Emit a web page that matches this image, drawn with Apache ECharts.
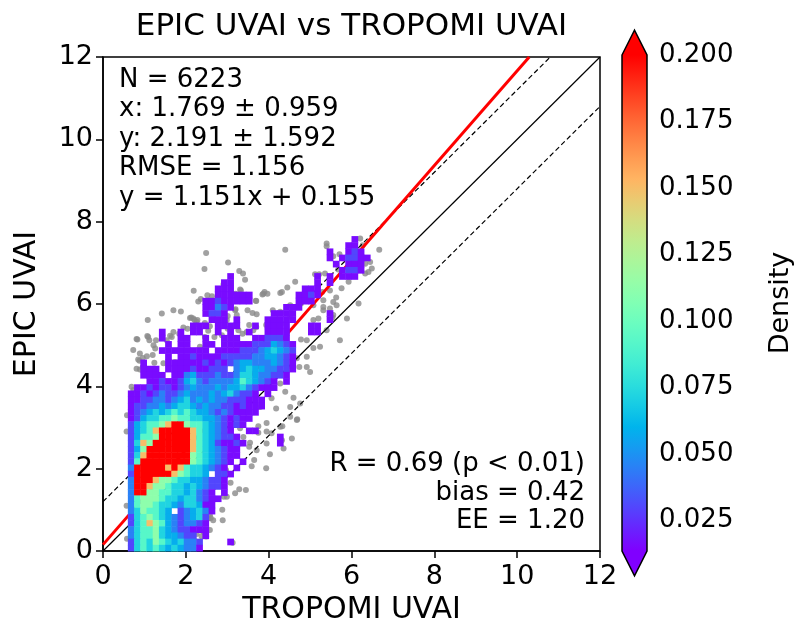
<!DOCTYPE html>
<html>
<head>
<meta charset="utf-8">
<script src="https://cdn.jsdelivr.net/npm/echarts@6.0.0/dist/echarts.min.js"></script>
<style>
html, body { margin: 0; padding: 0; background: #fff; }
#chart { width: 795px; height: 637px; }
</style>
</head>
<body>
<div id="chart"></div>
<script>
// ---- values ----
const cellSize = 0.15;   // bin width in UVAI units
const cellX0 = 0.6;      // left edge of the first bin column
// density class of each bin, top row first ('.' = no bin drawn)
const densityRows = [
  "..............................." + ".....1....",
  "..............................." + "....11...",
  ".............................." + "..1..121..",
  ".............................." + "..1.12211.",
  ".............................." + "...1.111..",
  ".............................." + "....1221..",
  ".........." + "......1..." + ".........." + "1.1.111...",
  ".........." + ".....11..." + ".........." + "1.1.......",
  ".........." + "....111..." + "........11" + "1.........",
  ".........." + "....111111" + ".......112" + "1.........",
  ".........." + "..11211111" + ".......111" + "..........",
  ".........." + "..11321..." + ".....111.." + "..........",
  ".........." + "..1221...." + "...1111..." + "..1.......",
  ".........." + "...111.1.." + "..11111..." + "..1.......",
  ".........." + "111.1111.." + "1.1111...1" + "1.........",
  ".....1..1." + "11..1.1..1" + "..1111...1" + "1.........",
  ".....1..11" + "..1..111.." + "112221....",
  "......1.11" + "..11.11111" + "2224321...",
  ".....11111" + "111.111122" + "2345432...",
  "......1.11" + "2111122222" + "3344321...",
  "..1...1111" + "1121212344" + "3334321...",
  "..111.1111" + "211222.345" + "4433221...",
  "..1111.113" + "4222322355" + "433221....",
  "...1121124" + "5323333465" + "4321.1....",
  ".112122123" + "4333434453" + "2111......",
  "1121232234" + "3334345322" + "1.1.......",
  "1122332345" + "3434332221" + "11........",
  "1223343455" + "4343322121" + "11........",
  "1234545656" + "5443232111" + "1.........",
  "1245566766" + "5544321211",
  "2456678997" + "665432121.",
  "2456899999" + "8654321..1" + "1.........",
  "2466799999" + "86543221.." + "....1.....",
  "2587999999" + "865421121." + "....1.....",
  "2479999999" + "86543211..",
  "2589999999" + "76543211..",
  "2699999999" + "7654321.1.",
  "3999998986" + "554321.1..",
  "2999999876" + "554.221...",
  "3999877655" + "443221....",
  "3998776554" + "543221....",
  "3997766554" + "5321.1....",
  "3677765545" + "53211.....",
  "3677655435" + "5411......",
  "3576654.23" + "4531......",
  "2567654323" + "452.......",
  "2568764323" + "321.......",
  "3566754322" + "111.......",
  "3566754432" + "2.1.......",
  "2565765453" + "32....1...",
  "2565654543" + "31........"
];
// density value of each class 1..9
const classDensity = [0, 0.016, 0.03, 0.045, 0.058, 0.072, 0.092, 0.112, 0.15, 0.2];

// sparse points outside the drawn bins
const greyPoints = [
  [2.49,7.24],[3.02,7.01],[2.45,6.85],[3.29,6.80],[3.38,6.74],[3.43,6.59],[2.91,6.48],[2.19,6.32],
  [3.33,6.33],[3.20,6.25],[3.85,6.23],[3.90,6.29],[2.63,6.19],[2.30,6.06],[3.69,6.08],[1.70,5.85],
  [1.88,5.82],[1.42,5.77],[3.20,5.87],[3.49,5.85],[2.13,5.67],[2.21,5.61],[1.08,5.61],[2.26,5.57],
  [2.46,5.54],[2.58,5.46],[3.23,5.73],[3.53,5.49],[3.71,5.75],[1.70,5.32],[1.84,5.28],[0.81,5.15],
  [1.09,5.20],[3.27,5.36],[3.37,5.28],[2.87,5.24],[2.54,5.35],
  [4.40,7.32],[5.40,7.40],[6.27,7.43],[4.64,6.54],[5.36,6.74],[5.12,6.72],[6.33,6.98],[6.45,7.02],
  [6.49,6.86],[3.31,6.35],[3.70,6.07],[3.87,6.25],[4.28,6.27],[4.45,6.40],[4.28,5.81],[4.52,5.97],
  [4.40,5.53],[5.08,5.61],[5.32,5.93],[6.33,6.74],[4.52,5.69],[2.18,5.65],[2.66,5.73],[2.99,5.61],
  [3.19,5.85],[3.63,5.36],[5.24,4.96],[4.92,5.12],[5.40,5.36],[5.72,5.12],[3.75,4.88],[4.92,4.72],
  [5.00,4.35],[5.40,7.47],[6.21,7.59],[6.67,7.32],[5.22,6.72],[5.68,6.84],[5.93,6.54],[5.32,6.09],
  [5.56,6.05],[5.76,6.38],[6.17,6.01],[6.41,6.78],[5.56,5.73],[5.32,5.85],[5.89,5.65],
  [5.56,7.16],[5.71,7.21],[2.36,6.12],[2.52,6.21],[3.45,6.19],[3.97,6.25],[4.32,6.29],[5.29,6.29],
  [5.48,6.33],[5.63,6.16],[5.64,5.97],[2.10,5.66],[2.28,5.61],[2.24,5.50],[3.01,5.71],[3.61,5.78],
  [4.10,5.85],[4.30,5.78],[4.54,5.78],[4.78,6.01],[5.08,5.97],[5.20,5.65],[5.48,5.89],[5.54,5.67],
  [0.83,5.14],[1.07,5.22],[1.12,5.12],[0.96,4.69],[0.88,4.62],[1.20,4.76],[1.28,5.12],[1.54,5.12],
  [1.62,5.23],[2.04,5.40],[1.94,5.43],[2.69,5.20],[3.01,5.40],[3.47,5.32],[3.70,5.44],[3.94,5.49],
  [4.22,5.40],[4.17,5.20],[4.78,5.14],[5.08,4.93],[0.96,4.46],[1.24,4.57],[4.68,4.68],[4.74,4.47],
  [4.18,3.46],[4.52,3.50],[4.69,3.20],[3.95,3.11],[3.95,2.90],[3.75,3.03],[4.33,3.03],[3.55,2.63],
  [4.03,2.35],[4.36,2.49],[3.59,2.06],[3.94,2.01],[3.29,1.50],[3.45,1.48],[2.99,1.32],[2.54,0.79],
  [2.66,0.75],[2.89,0.75],[2.42,0.47],[2.49,0.35],[3.13,0.20],[3.07,2.86],[4.68,3.18],[4.56,2.73],
  [4.32,2.69],[4.92,4.47],[4.44,4.47],[4.28,4.07],[3.95,3.99],[3.79,4.15],[4.07,3.71],[3.11,4.56],
  [2.43,0.94],[2.60,0.80],[3.75,2.87],[3.39,2.77],[2.99,2.69],[3.31,2.98],[3.79,3.50],[2.58,1.24],
  [2.46,0.67],[2.58,0.51],[2.38,0.36],
  [4.40,3.87],[4.60,3.72],[4.76,3.58],[4.52,3.26],[4.28,3.02],[4.07,2.86],[3.95,2.61],[3.71,2.45],
  [3.65,2.21],[3.53,2.53],[3.15,2.45],[3.03,2.29],[2.97,1.97],[3.08,1.66],[3.19,1.40],[2.88,1.00],
  [2.92,1.32],[2.58,0.87],[2.26,0.41],[1.96,0.07],[2.18,0.27],
  [1.22,5.00],[0.73,4.88],[0.89,4.80],[1.06,4.73],[1.26,4.92],[0.85,4.65],[0.81,4.43],[0.89,4.41],
  [1.22,4.41],[1.46,4.56],[0.73,3.91],[1.66,5.20],[1.74,4.59],[0.69,3.99],[0.69,3.71],[2.46,5.20],
  [2.34,4.96],[0.57,2.90],[0.58,3.30],[0.57,1.10],[0.58,0.30]
];

const statLines = ["N = 6223", "x: 1.769 \u00b1 0.959", "y: 2.191 \u00b1 1.592", "RMSE = 1.156", "y = 1.151x + 0.155"];
const corrLines = ["R = 0.69 (p < 0.01)", "bias = 0.42", "EE = 1.20"];
const fitSlope = 1.151;
const fitIntercept = 0.155;
const eeOffset = 1.2;
const axisMax = 12;
const cbTicks = [0.025, 0.05, 0.075, 0.1, 0.125, 0.15, 0.175, 0.2];
const cbMin = 0.0135;
const cbMax = 0.2;

// ---- build series data ----
const cells = [];
const nRows = densityRows.length;
densityRows.forEach(function (row, k) {
  const j = nRows - 1 - k;
  for (let i = 0; i < row.length; i++) {
    const c = row[i];
    if (c === '.') continue;
    cells.push([cellX0 + (i + 0.5) * cellSize, (j + 0.5) * cellSize, classDensity[+c]]);
  }
});

// matplotlib 'rainbow' colormap
function rainbow(t) {
  const r = Math.min(1, Math.abs(2 * t - 0.5));
  const g = Math.sin(Math.PI * t);
  const b = Math.max(0, Math.cos(Math.PI / 2 * t));
  return 'rgb(' + Math.round(r * 255) + ',' + Math.round(g * 255) + ',' + Math.round(b * 255) + ')';
}
const rampColors = [];
for (let k = 0; k <= 24; k++) rampColors.push(rainbow(k / 24));
const gradStops = rampColors.map(function (c, k) { return { offset: 1 - k / 24, color: c }; });

const FONT = 'DejaVu Sans';
const oneToOne = [[0, 0], [axisMax, axisMax]];
const eeUpper = [[0, eeOffset], [axisMax - eeOffset, axisMax]];
const eeLower = [[eeOffset, 0], [axisMax, axisMax - eeOffset]];
const fitLine = [[0, fitIntercept], [(axisMax - fitIntercept) / fitSlope, axisMax]];

const chart = echarts.init(document.getElementById('chart'), null, { renderer: 'canvas' });

const axisCommon = {
  type: 'value', min: 0, max: axisMax, interval: 2,
  axisLine: { show: true, onZero: false, lineStyle: { color: '#000', width: 1.5 } },
  axisTick: { show: true, inside: false, length: 7, lineStyle: { color: '#000', width: 1.5 } },
  axisLabel: { fontSize: 27, color: '#000', fontFamily: FONT },
  splitLine: { show: false },
  nameLocation: 'middle',
  nameTextStyle: { fontSize: 30, color: '#000', fontFamily: FONT }
};

chart.setOption({
  animation: false,
  backgroundColor: '#fff',
  grid: [
    { left: 103, top: 57, width: 497, height: 494, show: true, borderColor: '#000', borderWidth: 1.5, backgroundColor: 'transparent' },
    { left: 622, top: 55, width: 28, height: 496 }
  ],
  xAxis: [
    Object.assign({}, axisCommon, { gridIndex: 0, name: 'TROPOMI UVAI', nameGap: 31,
      axisLabel: Object.assign({}, axisCommon.axisLabel, { margin: 12 }) }),
    { gridIndex: 1, type: 'value', min: 0, max: 1, show: false }
  ],
  yAxis: [
    Object.assign({}, axisCommon, { gridIndex: 0, name: 'EPIC UVAI', nameGap: 61, nameRotate: 90,
      axisLabel: Object.assign({}, axisCommon.axisLabel, { margin: 10 }) }),
    {
      gridIndex: 1, type: 'value', min: cbMin, max: cbMax, position: 'right',
      axisLine: { show: false },
      axisTick: { show: true, length: 7, customValues: cbTicks, lineStyle: { color: '#000', width: 1.5 } },
      axisLabel: { show: true, customValues: cbTicks, fontSize: 26, color: '#000', fontFamily: FONT, margin: 12,
        formatter: function (v) { return (+v).toFixed(3); } },
      splitLine: { show: false },
      name: 'Density', nameLocation: 'middle', nameRotate: 90, nameGap: 120,
      nameTextStyle: { fontSize: 27, color: '#000', fontFamily: FONT }
    }
  ],
  visualMap: {
    show: false, type: 'continuous', min: cbMin, max: cbMax, dimension: 2, seriesIndex: 5,
    inRange: { color: rampColors }
  },
  series: [
    { type: 'scatter', xAxisIndex: 0, yAxisIndex: 0, data: greyPoints, symbolSize: 6,
      itemStyle: { color: '#8a8a8a' }, z: 2, silent: true },
    { type: 'line', xAxisIndex: 0, yAxisIndex: 0, data: oneToOne, symbol: 'none',
      lineStyle: { color: '#000', width: 1.2 }, z: 3, silent: true },
    { type: 'line', xAxisIndex: 0, yAxisIndex: 0, data: eeUpper, symbol: 'none',
      lineStyle: { color: '#000', width: 1.2, type: [5, 3] }, z: 3, silent: true },
    { type: 'line', xAxisIndex: 0, yAxisIndex: 0, data: eeLower, symbol: 'none',
      lineStyle: { color: '#000', width: 1.2, type: [5, 3] }, z: 3, silent: true },
    { type: 'line', xAxisIndex: 0, yAxisIndex: 0, data: fitLine, symbol: 'none',
      lineStyle: { color: '#ff0000', width: 3 }, z: 4, silent: true },
    {
      type: 'custom', xAxisIndex: 0, yAxisIndex: 0, data: cells, z: 5, silent: true,
      encode: { x: 0, y: 1 },
      renderItem: function (params, api) {
        const a = api.coord([api.value(0) - cellSize / 2, api.value(1) + cellSize / 2]);
        const b = api.coord([api.value(0) + cellSize / 2, api.value(1) - cellSize / 2]);
        return {
          type: 'rect',
          shape: { x: a[0], y: a[1], width: b[0] - a[0] + 0.5, height: b[1] - a[1] + 0.5 },
          style: { fill: api.visual('color') }
        };
      }
    },
    {
      type: 'custom', xAxisIndex: 1, yAxisIndex: 1, data: [[0, cbMin]], z: 5, silent: true,
      renderItem: function (params, api) {
        const tl = api.coord([0, cbMax]);
        const br = api.coord([1, cbMin]);
        const l = tl[0], r = br[0], t = tl[1], b = br[1];
        const m = (l + r) / 2, ext = (b - t) * 0.05;
        return {
          type: 'group',
          children: [
            { type: 'rect', shape: { x: l, y: t, width: r - l, height: b - t },
              style: { fill: { type: 'linear', x: 0, y: 0, x2: 0, y2: 1, colorStops: gradStops.slice().reverse() } } },
            { type: 'polygon', shape: { points: [[l, t], [r, t], [m, t - ext]] }, style: { fill: rainbow(1) } },
            { type: 'polygon', shape: { points: [[l, b], [r, b], [m, b + ext]] }, style: { fill: rainbow(0) } },
            { type: 'polygon', shape: { points: [[l, t], [m, t - ext], [r, t], [r, b], [m, b + ext], [l, b]] },
              style: { fill: 'none', stroke: '#000', lineWidth: 1.5 } }
          ]
        };
      }
    }
  ],
  graphic: [
    { type: 'text', x: 351.5, y: 27, style: { text: 'EPIC UVAI vs TROPOMI UVAI', fontSize: 31, fontFamily: FONT, fill: '#000',
      align: 'center', verticalAlign: 'middle', textAlign: 'center', textVerticalAlign: 'middle' } },
    { type: 'text', x: 119, y: 65, z: 10, style: { text: statLines.join('\n'), fontSize: 26, lineHeight: 29.6, fontFamily: FONT, fill: '#000',
      align: 'left', verticalAlign: 'top', textAlign: 'left', textVerticalAlign: 'top' } },
    { type: 'text', x: 585, y: 450, z: 10, style: { text: corrLines.join('\n'), fontSize: 26, lineHeight: 28.5, fontFamily: FONT, fill: '#000',
      align: 'right', verticalAlign: 'top', textAlign: 'right', textVerticalAlign: 'top' } }
  ]
});
</script>
</body>
</html>
